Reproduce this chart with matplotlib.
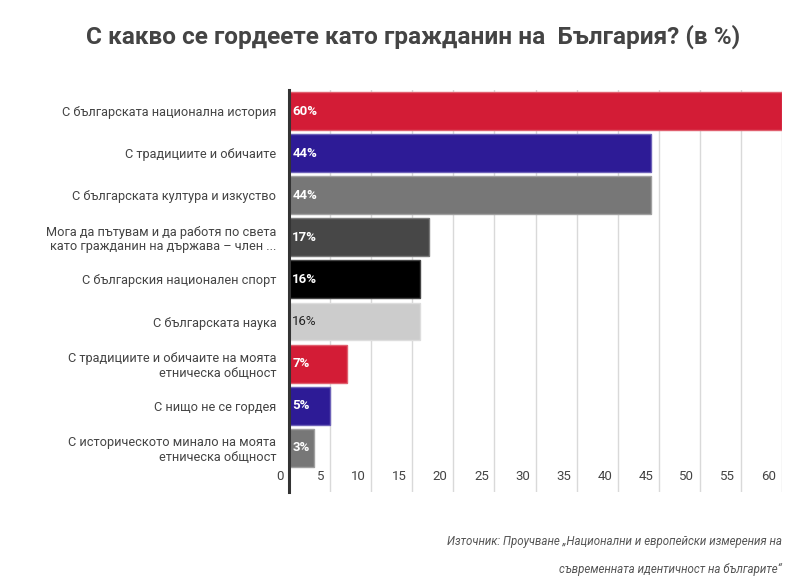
import matplotlib.pyplot as plt
from matplotlib.transforms import ScaledTranslation

# data
categories = [
    "С българската национална история",
    "С традициите и обичаите",
    "С българската култура и изкуство",
    "Мога да пътувам и да работя по света\nкато гражданин на държава – член ...",
    "С българския национален спорт",
    "С българската наука",
    "С традициите и обичаите на моята\nетническа общност",
    "С нищо не се гордея",
    "С историческото минало на моята\nетническа общност",
]
values = [60, 44, 44, 17, 16, 16, 7, 5, 3]
value_labels = ["60%", "44%", "44%", "17%", "16%", "16%", "7%", "5%", "3%"]
colors = ["#d31c36", "#2d1b96", "#777777", "#474747", "#000000",
          "#cccccc", "#d31c36", "#2d1b96", "#777777"]
edge_colors = ["#e0606f", "#6d61b8", "#a0a0a0", "#7a7a7a", "#444444",
               "#dddddd", "#e0606f", "#6d61b8", "#a0a0a0"]
label_colors = ["white", "white", "white", "white", "white",
                "#222222", "white", "white", "white"]
xticks = list(range(0, 65, 5))

plt.rcParams['font.family'] = ['Roboto', 'DejaVu Sans']

fig = plt.figure(figsize=(8.06, 5.86), dpi=100)
ax = fig.add_axes([289 / 806, 1 - 492 / 586, (782 - 289) / 806, (492 - 90) / 586])

y = list(range(len(categories)))
ax.barh(y, values, height=0.9, color=colors, edgecolor=edge_colors,
        linewidth=1, zorder=3)

for i, (v, lab) in enumerate(zip(values, value_labels)):
    ax.text(0.4, i, lab, va='center', ha='left', fontsize=9.5,
            color=label_colors[i],
            fontweight='normal' if label_colors[i] != 'white' else 'bold',
            zorder=4)

ax.set_xlim(0, 60)
ax.set_ylim(9.05, -0.5)
ax.set_yticks(y)
ax.set_yticklabels(categories, fontsize=9.2, color='#444444', linespacing=1.15)
ax.tick_params(axis='y', length=0, pad=9)

ax.set_xticks(xticks)
ax.set_xticklabels([str(t) for t in xticks], fontsize=9.5, color='#444444')
ax.tick_params(axis='x', length=0, pad=-16)
offset = ScaledTranslation(-4 / 72, 0, fig.dpi_scale_trans)
for lbl in ax.get_xticklabels():
    lbl.set_horizontalalignment('right')
    lbl.set_transform(lbl.get_transform() + offset)

ax.grid(axis='x', color='#d9d9d9', linewidth=1, zorder=0)
for s in ['top', 'right', 'bottom']:
    ax.spines[s].set_visible(False)
ax.spines['left'].set_color('#333333')
ax.spines['left'].set_linewidth(2.2)
ax.spines['left'].set_zorder(5)

fig.text(413 / 806, 1 - 37 / 586,
         "С какво се гордеете като гражданин на  България? (в %)",
         ha='center', va='center', fontsize=17.6, fontweight='bold',
         color='#444444', family=['Liberation Sans Narrow', 'Roboto', 'DejaVu Sans'])

fig.text(782 / 806, 1 - 542 / 586,
         "Източник: Проучване „Национални и европейски измерения на",
         ha='right', va='center', fontsize=8.3, style='italic', color='#555555')
fig.text(782 / 806, 1 - 569 / 586,
         "съвременната идентичност на българите“",
         ha='right', va='center', fontsize=8.3, style='italic', color='#555555')

fig.savefig('out.png', dpi=100)
